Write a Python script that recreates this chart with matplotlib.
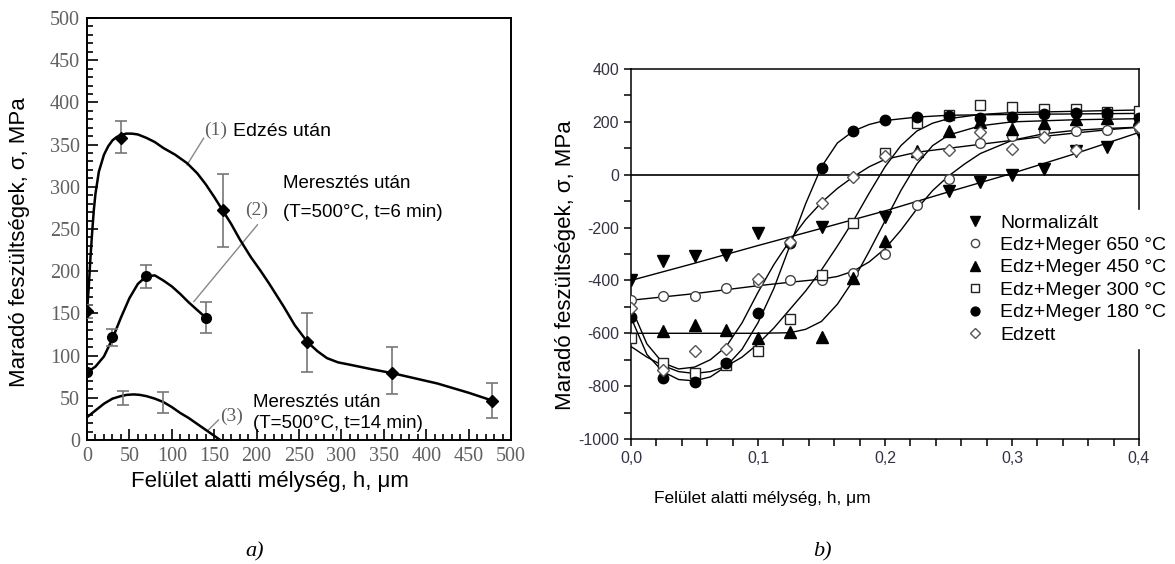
import numpy as np
import matplotlib
matplotlib.use("Agg")
import matplotlib.pyplot as plt
from matplotlib.ticker import MultipleLocator, FixedLocator

plt.rcParams['font.family'] = ['Liberation Sans', 'DejaVu Sans']
plt.rcParams['axes.unicode_minus'] = False

# ---------------- panel a) data ----------------
# curve (1) Edzés után
c1_x = [0, 2, 4, 6, 8, 10, 14, 20, 25, 30, 35, 40, 46, 53, 60, 70, 80, 90, 104, 118, 130, 140, 150, 160, 170, 180, 193, 205, 215, 232, 245, 260, 272, 283, 296, 311, 335, 361, 387, 413, 450, 480]
c1_y = [152, 180, 215, 245, 272, 292, 318, 338, 348, 355, 359, 361, 363, 363, 362, 358, 353, 346, 338, 328, 316, 303, 288, 272, 256, 238, 217, 200, 185, 158, 136, 116, 105, 97, 92, 89, 84, 79, 73, 67, 56, 46]
m1_x = [0, 40, 160, 260, 360, 478]
m1_y = [153, 358, 272, 116, 79, 46]
m1_lo = [8, 18, 43, 35, 25, 20]
m1_hi = [7, 20, 43, 35, 31, 22]

# curve (2) Meresztés után, 6 min
c2_x = [0, 10, 20, 30, 40, 50, 60, 70, 80, 90, 100, 110, 120, 130, 140]
c2_y = [80, 87, 99, 120, 145, 168, 185, 194, 195, 189, 182, 173, 163, 154, 145]
m2_x = [0, 30, 70, 140]
m2_y = [81, 122, 194, 145]
m2_lo = [0, 11, 14, 18]
m2_hi = [0, 9, 13, 18]

# curve (3) Meresztés után, 14 min
c3_x = [0, 10, 20, 30, 40, 47, 55, 62, 70, 80, 90, 100, 110, 120, 130, 140, 150, 157]
c3_y = [27, 35, 43, 49, 52, 53.5, 54, 53.5, 52, 49, 45, 39, 32, 26, 19, 12, 5, 0]
e3_x = [42, 90]
e3_y = [50, 44.5]
e3_err = [8, 12.5]

# ---------------- panel b) data ----------------
labels_b = ['Normalizált', 'Edz+Meger 650 °C', 'Edz+Meger 450 °C',
            'Edz+Meger 300 °C', 'Edz+Meger 180 °C', 'Edzett']

norm_mx = [0, 0.025, 0.05, 0.075, 0.1, 0.15, 0.2, 0.25, 0.275, 0.3, 0.325, 0.35, 0.375, 0.4]
norm_my = [-400, -328, -308, -302, -222, -199, -161, -60, -29, 0, 22, 88, 103, 160]
norm_cx = [0, 0.05, 0.1, 0.15, 0.2, 0.25, 0.3, 0.35, 0.4]
norm_cy = [-400, -335, -268, -203, -137, -65, 5, 80, 160]

t650_mx = [0, 0.025, 0.05, 0.075, 0.1, 0.125, 0.15, 0.175, 0.2, 0.225, 0.25, 0.275, 0.3, 0.325, 0.35, 0.375, 0.4]
t650_my = [-475, -460, -460, -428, -406, -398, -398, -370, -300, -115, -16, 120, 147, 166, 167, 170, 175]
t650_cx = [0, 0.05, 0.1, 0.125, 0.15, 0.1625, 0.175, 0.1875, 0.2, 0.2125, 0.225, 0.2375, 0.25, 0.2625, 0.275, 0.3, 0.325, 0.35, 0.375, 0.4]
t650_cy = [-475, -450, -420, -407, -395, -385, -365, -330, -280, -210, -130, -60, -5, 40, 80, 130, 155, 168, 175, 180]

t450_mx = [0.025, 0.05, 0.075, 0.1, 0.125, 0.15, 0.175, 0.2, 0.225, 0.25, 0.275, 0.3, 0.325, 0.35, 0.375, 0.4]
t450_my = [-591, -568, -589, -616, -596, -615, -390, -252, 91, 166, 200, 172, 197, 210, 215, 210]
t450_cx = [0, 0.05, 0.1, 0.125, 0.1375, 0.15, 0.1625, 0.175, 0.1875, 0.2, 0.2125, 0.225, 0.2375, 0.25, 0.275, 0.3, 0.35, 0.4]
t450_cy = [-600, -600, -600, -598, -585, -555, -490, -400, -290, -175, -60, 40, 110, 150, 185, 200, 208, 212]

t300_mx = [0, 0.025, 0.05, 0.075, 0.1, 0.125, 0.15, 0.175, 0.2, 0.225, 0.25, 0.275, 0.3, 0.325, 0.35, 0.375, 0.4]
t300_my = [-616, -714, -752, -720, -667, -545, -378, -184, 84, 197, 225, 263, 258, 248, 248, 238, 241]
t300_cx = [0, 0.0125, 0.025, 0.0375, 0.05, 0.0625, 0.075, 0.0875, 0.1, 0.1125, 0.125, 0.1375, 0.15, 0.1625, 0.175, 0.1875, 0.2, 0.2125, 0.225, 0.2375, 0.25, 0.275, 0.3, 0.35, 0.4]
t300_cy = [-650, -690, -722, -745, -752, -745, -725, -690, -640, -580, -510, -440, -360, -270, -175, -70, 30, 110, 165, 195, 212, 228, 235, 240, 245]

t180_mx = [0, 0.025, 0.05, 0.075, 0.1, 0.125, 0.15, 0.175, 0.2, 0.225, 0.25, 0.275, 0.3, 0.325, 0.35, 0.375, 0.4]
t180_my = [-538, -771, -784, -711, -524, -258, 25, 165, 207, 219, 223, 216, 219, 231, 232, 235, 216]
t180_cx = [0, 0.0125, 0.025, 0.0375, 0.05, 0.0625, 0.075, 0.0875, 0.1, 0.1125, 0.125, 0.1375, 0.15, 0.1625, 0.175, 0.1875, 0.2, 0.225, 0.25, 0.3, 0.35, 0.4]
t180_cy = [-540, -680, -745, -775, -780, -765, -725, -660, -560, -430, -270, -110, 30, 120, 165, 190, 205, 218, 225, 228, 230, 232]

edz_mx = [0, 0.025, 0.05, 0.075, 0.1, 0.125, 0.15, 0.175, 0.2, 0.225, 0.25, 0.275, 0.3, 0.325, 0.35, 0.4]
edz_my = [-506, -740, -668, -660, -393, -255, -106, -10, 72, 79, 94, 160, 97, 141, 92, 180]
edz_cx = [0, 0.0125, 0.025, 0.0375, 0.05, 0.0625, 0.075, 0.0875, 0.1, 0.1125, 0.125, 0.1375, 0.15, 0.1625, 0.175, 0.1875, 0.2, 0.225, 0.25, 0.275, 0.3, 0.325, 0.35, 0.375, 0.4]
edz_cy = [-500, -640, -712, -735, -728, -700, -650, -560, -445, -340, -250, -170, -105, -52, -8, 30, 58, 85, 100, 115, 130, 145, 158, 170, 180]

fig = plt.figure(figsize=(11.75, 5.64), dpi=100)

# ================= a) =================
ax1 = fig.add_axes([87 / 1175, 1 - 440 / 564, 424 / 1175, 422 / 564])
serif = ['Liberation Serif', 'DejaVu Serif']
grey = '#606060'

ax1.plot(c1_x, c1_y, color='k', lw=1.8, zorder=3)
ax1.plot(c2_x, c2_y, color='k', lw=1.8, zorder=3)
ax1.plot(c3_x, c3_y, color='k', lw=1.8, zorder=3)
ax1.errorbar(m1_x, m1_y, yerr=[m1_lo, m1_hi], fmt='D', color='k', ms=6,
             ecolor='#777777', elinewidth=1.2, capsize=4, capthick=1.2, zorder=4)
ax1.errorbar(m2_x, m2_y, yerr=[m2_lo, m2_hi], fmt='o', color='k', ms=7,
             ecolor='#777777', elinewidth=1.2, capsize=4, capthick=1.2, zorder=4)
ax1.errorbar(e3_x, e3_y, yerr=e3_err, fmt='none',
             ecolor='#777777', elinewidth=1.2, capsize=4, capthick=1.2, zorder=4)

# leader lines
ax1.plot([137.5, 118], [357.5, 326], color='#888888', lw=1)
ax1.plot([201, 126], [255, 164], color='#888888', lw=1)
ax1.plot([155, 143], [23.7, 11.8], color='#888888', lw=1)

ax1.text(152, 367, '(1)', family=serif, fontsize=14, color=grey, ha='center', va='center')
ax1.text(200, 272.5, '(2)', family=serif, fontsize=14, color=grey, ha='center', va='center')
ax1.text(170, 28, '(3)', family=serif, fontsize=14, color=grey, ha='center', va='center')
ax1.text(172.6, 365, 'Edzés után', fontsize=14, va='center')
ax1.text(231.7, 304.5, 'Meresztés után', fontsize=13.5, va='center')
ax1.text(231.7, 270, '(T=500°C, t=6 min)', fontsize=13.5, va='center')
ax1.text(196, 45, 'Meresztés után', fontsize=13.5, va='center')
ax1.text(196, 19, '(T=500°C, t=14 min)', fontsize=13.5, va='center')

ax1.set_xlim(0, 500)
ax1.set_ylim(0, 500)
ax1.xaxis.set_major_locator(MultipleLocator(50))
ax1.xaxis.set_minor_locator(MultipleLocator(10))
ax1.yaxis.set_major_locator(MultipleLocator(50))
ax1.yaxis.set_minor_locator(MultipleLocator(10))
ax1.tick_params(which='both', direction='in', top=False, right=False, width=1.2)
ax1.tick_params(which='major', length=8, labelsize=14.5, labelcolor=grey, pad=5)
ax1.tick_params(which='minor', length=4)
for lab in ax1.get_xticklabels() + ax1.get_yticklabels():
    lab.set_family(serif)
for sp in ax1.spines.values():
    sp.set_linewidth(1.4)

fig.text(20 / 1175, 1 - 242 / 564, 'Maradó feszültségek, σ, MPa', rotation=90,
         fontsize=16, ha='center', va='center')
fig.text(270 / 1175, 1 - 482 / 564, 'Felület alatti mélység, h, μm',
         fontsize=16, ha='center', va='center')
fig.text(255 / 1175, 1 - 552 / 564, 'a)', family=serif, style='italic',
         fontsize=16, ha='center', va='center')

# ================= b) =================
ax2 = fig.add_axes([631 / 1175, 1 - 439 / 564, 508 / 1175, 370 / 564])
lk = dict(color='k', lw=1.0, zorder=2)
ax2.plot(norm_cx, norm_cy, **lk)
ax2.plot(t650_cx, t650_cy, **lk)
ax2.plot(t450_cx, t450_cy, **lk)
ax2.plot(t300_cx, t300_cy, **lk)
ax2.plot(t180_cx, t180_cy, **lk)
ax2.plot(edz_cx, edz_cy, **lk)
ax2.axhline(0, color='k', lw=1.2, zorder=1)

mk = dict(linestyle='none', zorder=3)
h1, = ax2.plot(norm_mx, norm_my, marker='v', ms=8, color='k', label=labels_b[0], **mk)
h2, = ax2.plot(t650_mx, t650_my, marker='o', ms=7, mfc='white', mec='#444444', mew=1, label=labels_b[1], **mk)
h3, = ax2.plot(t450_mx, t450_my, marker='^', ms=8, color='k', label=labels_b[2], **mk)
h4, = ax2.plot(t300_mx, t300_my, marker='s', ms=7, mfc='white', mec='#222222', mew=1, label=labels_b[3], **mk)
h5, = ax2.plot(t180_mx, t180_my, marker='o', ms=7.5, color='k', label=labels_b[4], **mk)
h6, = ax2.plot(edz_mx, edz_my, marker='D', ms=6, mfc='white', mec='#555555', mew=1, label=labels_b[5], **mk)

ax2.set_xlim(0, 0.4)
ax2.set_ylim(-1000, 400)
ax2.xaxis.set_major_locator(FixedLocator([0, 0.1, 0.2, 0.3, 0.4]))
ax2.set_xticklabels(['0,0', '0,1', '0,2', '0,3', '0,4'])
ax2.xaxis.set_minor_locator(MultipleLocator(0.02))
ax2.yaxis.set_major_locator(MultipleLocator(200))
ax2.yaxis.set_minor_locator(MultipleLocator(100))
ax2.set_yticklabels([str(int(v)) for v in ax2.get_yticks()])
ax2.tick_params(which='both', direction='out', length=5, width=1.1,
                labelsize=11.5, labelcolor='#333344')
for sp in ax2.spines.values():
    sp.set_linewidth(1.1)

leg = ax2.legend(handles=[h1, h2, h3, h4, h5, h6], loc='upper left',
                 bbox_to_anchor=(961 / 1175, 1 - 210 / 564),
                 bbox_transform=fig.transFigure, fontsize=14, frameon=True,
                 facecolor='white', edgecolor='white', framealpha=1,
                 handlelength=1.0, handletextpad=0.8, labelspacing=0.25,
                 borderpad=0.2, borderaxespad=0, markerscale=0.85)
leg.get_frame().set_boxstyle('square', pad=0)
leg.set_zorder(5)

fig.text(565 / 1175, 1 - 265 / 564, 'Maradó feszültségek, σ, MPa', rotation=90,
         fontsize=16, ha='center', va='center')
fig.text(762 / 1175, 1 - 498 / 564, 'Felület alatti mélység, h, μm',
         fontsize=12.5, ha='center', va='center')
fig.text(822 / 1175, 1 - 552 / 564, 'b)', family=serif, style='italic',
         fontsize=16, ha='center', va='center')

fig.savefig('out.png', dpi=100)
